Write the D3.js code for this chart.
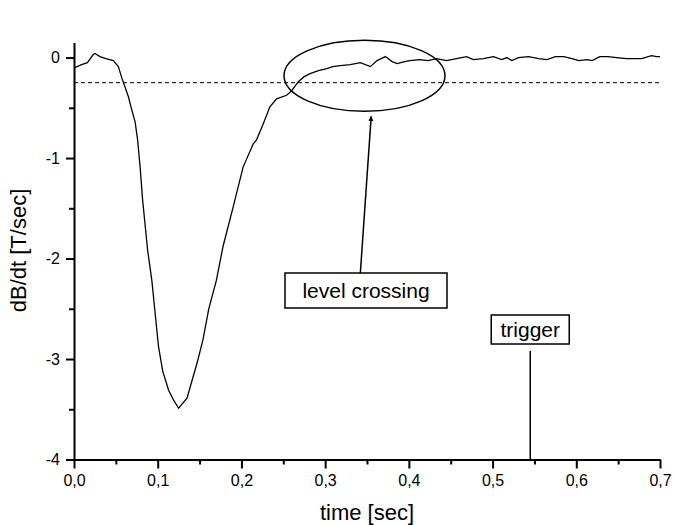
<!DOCTYPE html>
<html lang="en">
<head>
    <meta charset="UTF-8">
    <title>dB/dt level crossing</title>
    <script src="https://d3js.org/d3.v7.min.js"></script>
    <style>
        body { margin: 0; background: #fff; }
        svg { font-family: "Liberation Sans", Arial, sans-serif; }
        .axis path, .axis line { stroke: #000; stroke-width: 2px; }
        .axis text { font-size: 16px; fill: #000; font-family: "Liberation Sans", Arial, sans-serif; }
        .curve { fill: none; stroke: #000; stroke-width: 1.3px; }
        .level { stroke: #000; stroke-width: 1px; stroke-dasharray: 4,3; }
        .note rect { fill: #fff; stroke: #000; stroke-width: 1.5px; }
        .note text { font-size: 21px; }
        .title { font-size: 22px; }
    </style>
</head>
<body>
    <svg id="chart" width="674" height="525"></svg>

    <script>
        // 讀圖得到的資料 (time [sec], dB/dt [T/sec])
        const timeSec = [
            0.001, 0.009, 0.016, 0.023, 0.025, 0.031, 0.038, 0.047, 0.053, 0.057,
            0.065, 0.069, 0.073, 0.076, 0.079, 0.082, 0.088, 0.093, 0.101, 0.106,
            0.113, 0.119, 0.125, 0.135, 0.147, 0.154, 0.161, 0.170, 0.178, 0.190,
            0.202, 0.214, 0.218, 0.226, 0.234, 0.242, 0.254, 0.260, 0.268, 0.275,
            0.282, 0.292, 0.302, 0.309, 0.318, 0.330, 0.342, 0.354, 0.362, 0.372,
            0.380, 0.386, 0.395, 0.401, 0.413, 0.423, 0.433, 0.445, 0.457, 0.469,
            0.477, 0.489, 0.501, 0.511, 0.517, 0.523, 0.531, 0.543, 0.555, 0.565,
            0.575, 0.585, 0.595, 0.603, 0.613, 0.619, 0.628, 0.638, 0.648, 0.660,
            0.678, 0.690, 0.696, 0.700
        ];
        const dBdt = [
            -0.10, -0.07, -0.05, 0.03, 0.04, 0.01, -0.01, -0.03, -0.09, -0.20,
            -0.39, -0.52, -0.64, -0.82, -1.09, -1.42, -1.92, -2.22, -2.88, -3.12,
            -3.31, -3.41, -3.49, -3.39, -3.04, -2.81, -2.50, -2.22, -1.88, -1.49,
            -1.09, -0.86, -0.82, -0.66, -0.49, -0.41, -0.375, -0.33, -0.24, -0.19,
            -0.16, -0.13, -0.11, -0.09, -0.08, -0.07, -0.05, -0.09, -0.03, 0.01,
            -0.04, -0.06, -0.04, -0.03, -0.02, -0.03, -0.01, -0.03, -0.01, 0.01,
            -0.02, -0.01, 0.01, -0.02, 0.00, -0.03, 0.00, 0.01, -0.01, -0.02,
            0.01, 0.01, -0.01, -0.03, -0.02, -0.03, 0.01, 0.01, 0.00, -0.01,
            -0.01, 0.02, 0.01, 0.01
        ];

        const xMajor = [0, 0.1, 0.2, 0.3, 0.4, 0.5, 0.6, 0.7];
        const xMinor = [0.05, 0.15, 0.25, 0.35, 0.45, 0.55, 0.65];
        const yMajor = [0, -1, -2, -3, -4];
        const yMinor = [-0.5, -1.5, -2.5, -3.5];

        const levelValue = -0.25;      // 門檻 (虛線)
        const triggerTime = 0.545;     // trigger 位置
        const crossing = { t: 0.347, v: -0.181 };   // 圈起來的位置

        const svg = d3.select("#chart");

        const x = d3.scaleLinear().domain([0, 0.7]).range([74, 660]);
        const y = d3.scaleLinear().domain([-4, 0.15]).range([459.5, 42.5]);

        const fmtX = d => d3.format(".1f")(d).replace(".", ",");
        const fmtY = d => d === 0 ? "0" : "-" + Math.abs(d);

        // x 軸
        svg.append("g")
            .attr("class", "axis")
            .attr("transform", `translate(0, ${y(-4)})`)
            .call(d3.axisBottom(x).tickValues(xMajor).tickFormat(fmtX)
                .tickSize(9).tickSizeOuter(0).tickPadding(6));
        svg.append("g")
            .attr("class", "axis")
            .attr("transform", `translate(0, ${y(-4)})`)
            .call(d3.axisBottom(x).tickValues(xMinor).tickFormat("")
                .tickSize(5).tickSizeOuter(0))
            .select(".domain").remove();

        // y 軸
        svg.append("g")
            .attr("class", "axis")
            .attr("transform", `translate(${x(0)}, 0)`)
            .call(d3.axisLeft(y).tickValues(yMajor).tickFormat(fmtY)
                .tickSize(8).tickSizeOuter(0).tickPadding(6));
        svg.append("g")
            .attr("class", "axis")
            .attr("transform", `translate(${x(0)}, 0)`)
            .call(d3.axisLeft(y).tickValues(yMinor).tickFormat("")
                .tickSize(5).tickSizeOuter(0))
            .select(".domain").remove();

        // 軸標題
        svg.append("text")
            .attr("class", "title")
            .attr("x", (x(0) + x(0.7)) / 2)
            .attr("y", 520)
            .attr("text-anchor", "middle")
            .text("time [sec]");

        svg.append("text")
            .attr("class", "title")
            .attr("transform", `translate(26, ${y(-1.92)}) rotate(-90)`)
            .attr("text-anchor", "middle")
            .text("dB/dt [T/sec]");

        // 虛線門檻
        svg.append("line")
            .attr("class", "level")
            .attr("x1", x(0)).attr("x2", x(0.7))
            .attr("y1", y(levelValue)).attr("y2", y(levelValue));

        // 曲線
        const line = d3.line()
            .x((d, i) => x(timeSec[i]))
            .y(d => y(d));
        svg.append("path")
            .datum(dBdt)
            .attr("class", "curve")
            .attr("d", line);

        // 橢圓
        svg.append("ellipse")
            .attr("cx", x(crossing.t))
            .attr("cy", y(crossing.v))
            .attr("rx", 80.5)
            .attr("ry", 35.5)
            .attr("fill", "none")
            .attr("stroke", "#000")
            .attr("stroke-width", 1.5);

        // 箭頭
        svg.append("defs").append("marker")
            .attr("id", "arrow")
            .attr("viewBox", "0 0 10 10")
            .attr("refX", 9).attr("refY", 5)
            .attr("markerWidth", 5).attr("markerHeight", 7)
            .attr("markerUnits", "userSpaceOnUse")
            .attr("orient", "auto")
            .append("path")
            .attr("d", "M0,0 L10,5 L0,10 Z")
            .attr("fill", "#000");

        svg.append("line")
            .attr("x1", x(0.342)).attr("y1", y(-2.15))
            .attr("x2", x(0.355)).attr("y2", y(-0.585))
            .attr("stroke", "#000")
            .attr("stroke-width", 1.5)
            .attr("marker-end", "url(#arrow)");

        // trigger 線
        svg.append("line")
            .attr("x1", x(triggerTime)).attr("x2", x(triggerTime))
            .attr("y1", y(-2.92)).attr("y2", y(-4))
            .attr("stroke", "#000")
            .attr("stroke-width", 1.5);

        // 文字框
        function note(label, cx, top, w, h, baseY) {
            const g = svg.append("g").attr("class", "note");
            g.append("rect")
                .attr("x", cx - w / 2).attr("y", top)
                .attr("width", w).attr("height", h);
            g.append("text")
                .attr("x", cx).attr("y", baseY)
                .attr("text-anchor", "middle")
                .text(label);
        }
        note("level crossing", 366, 273, 162, 35, 298);
        note("trigger", x(triggerTime), 315, 78, 29, 337);
    </script>
</body>
</html>
